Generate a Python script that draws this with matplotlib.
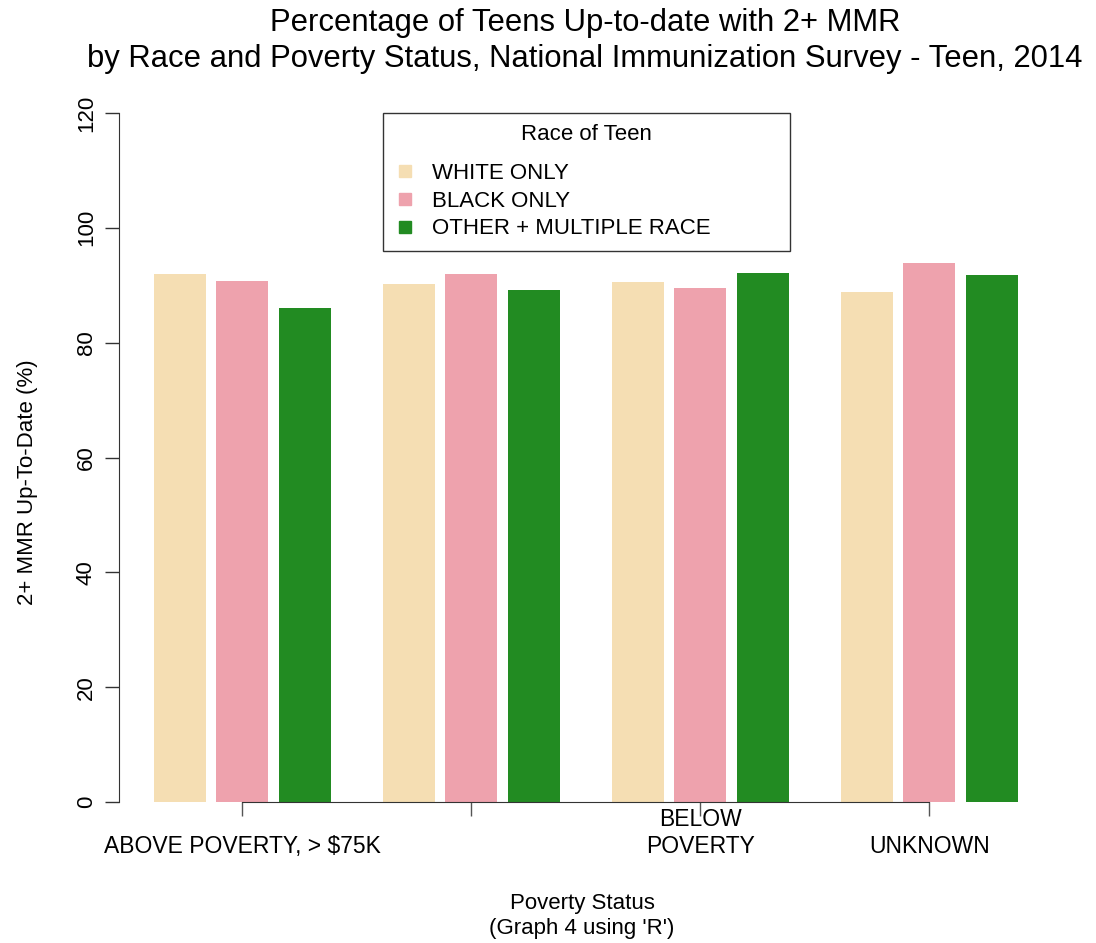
import numpy as np
import matplotlib
matplotlib.use('Agg')
import matplotlib.pyplot as plt
from matplotlib.lines import Line2D

plt.rcParams['font.family'] = ['Liberation Sans', 'DejaVu Sans']

# %%
poverty_status = ['ABOVE POVERTY, > $75K', 'ABOVE POVERTY, <= $75K',
                  'BELOW\nPOVERTY', 'UNKNOWN']
shown_labels = ['ABOVE POVERTY, > $75K', '', 'BELOW\nPOVERTY', 'UNKNOWN']
races = ['WHITE ONLY', 'BLACK ONLY', 'OTHER + MULTIPLE RACE']
colors = ['#F5DEB3', '#EEA2AD', '#228B22']

white_only = [91.9, 90.2, 90.5, 88.9]
black_only = [90.7, 92.0, 89.5, 93.9]
other_multi = [86.0, 89.1, 92.2, 91.7]
values = [white_only, black_only, other_multi]

# %%
W, H = 1096, 943
fig = plt.figure(figsize=(W / 100, H / 100), dpi=100)
ax = fig.add_axes([119 / W, 1 - 802 / H, (1052.5 - 119) / W, (802 - 113) / H])

# R barplot(beside=TRUE) style spacing: width 1, space 0.2 inside, 1 between groups
group_start = 1 + np.arange(len(poverty_status)) * 4.4
for i, (race, vals) in enumerate(zip(races, values)):
    ax.bar(group_start + i * 1.2 + 0.5, vals, width=1, color=colors[i],
           edgecolor='none', label=race)
centers = group_start + 1.7

ax.set_xlim(0.336, 18.264)
ax.set_ylim(0, 120)

for side in ['top', 'right']:
    ax.spines[side].set_visible(False)
ax.spines['left'].set_bounds(0, 120)
ax.spines['bottom'].set_bounds(centers[0], centers[-1])
ax.spines['left'].set_color('#333333')
ax.spines['bottom'].set_color('#333333')

ax.set_yticks(np.arange(0, 121, 20))
ax.set_yticklabels([str(v) for v in range(0, 121, 20)], rotation=90,
                   va='center', fontsize=16)
ax.tick_params(axis='y', length=10, width=1, color='#333333', pad=6)
ax.set_xticks(centers)
ax.set_xticklabels([''] * len(centers))
ax.tick_params(axis='x', length=10, width=1, color='#555555')

for c, lab in zip(centers, shown_labels):
    ax.annotate(lab, xy=(c, 0), xycoords=('data', 'axes fraction'),
                xytext=(0, -40), textcoords='offset points',
                ha='center', va='bottom', fontsize=16.5, linespacing=1.2)

fig.text(582 / W, 1 - 916 / H, "Poverty Status\n(Graph 4 using 'R')",
         ha='center', va='center', fontsize=16, linespacing=1.3)
fig.text(28 / W, 1 - 482 / H, '2+ MMR Up-To-Date (%)', rotation=90,
         ha='center', va='center', fontsize=16)
fig.text(585 / W, 1 - 41 / H,
         'Percentage of Teens Up-to-date with 2+ MMR\n'
         'by Race and Poverty Status, National Immunization Survey - Teen, 2014',
         ha='center', va='center', fontsize=22.3, linespacing=1.28)

handles = [Line2D([], [], marker='s', linestyle='none', markersize=9,
                  markerfacecolor=c, markeredgecolor=c) for c in colors]
leg = ax.legend(handles, races, title='Race of Teen', fontsize=16,
                title_fontsize=16, loc='upper left',
                bbox_to_anchor=(383 / W, 1 - 113 / H - 0.01, (790 - 383) / W, 0.01),
                bbox_transform=fig.transFigure, mode='expand',
                frameon=True, fancybox=False, edgecolor='black',
                borderpad=0.5, labelspacing=0.3, handlelength=1,
                handletextpad=0.7, borderaxespad=0)
leg.get_frame().set_linewidth(1)
# wider gap under the legend title, like R's legend()
leg._legend_box.sep = 13

plt.savefig('out.png', dpi=100)
